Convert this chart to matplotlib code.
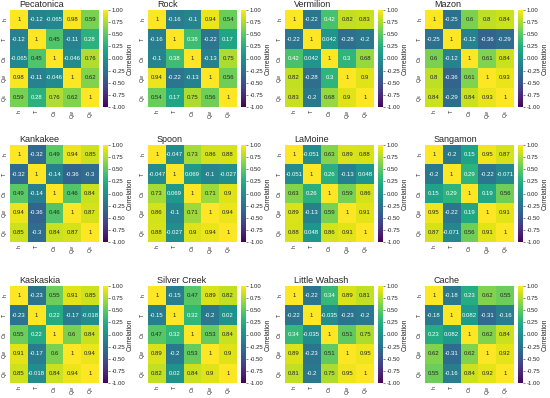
import numpy as np
import matplotlib
matplotlib.use('Agg')
import matplotlib.pyplot as plt
import seaborn as sns

sns.set_theme(style='white')
plt.rcParams['font.family'] = ['Liberation Sans', 'DejaVu Sans']

labels = ['h', 'T', 'Cs', 'Qw', 'Qs']
rivers = ['Pecatonica', 'Rock', 'Vermilion', 'Mazon',
          'Kankakee', 'Spoon', 'LaMoine', 'Sangamon',
          'Kaskaskia', 'Silver Creek', 'Little Wabash', 'Cache']

# upper triangle: h-T, h-Cs, h-Qw, h-Qs, T-Cs, T-Qw, T-Qs, Cs-Qw, Cs-Qs, Qw-Qs
pecatonica = [-0.12, -0.065, 0.98, 0.59, 0.45, -0.11, 0.28, -0.046, 0.76, 0.62]
rock = [-0.16, -0.1, 0.94, 0.54, 0.38, -0.22, 0.17, -0.13, 0.75, 0.56]
vermilion = [-0.22, 0.42, 0.82, 0.83, 0.042, -0.28, -0.2, 0.3, 0.68, 0.9]
mazon = [-0.25, 0.6, 0.8, 0.84, -0.12, -0.36, -0.29, 0.61, 0.84, 0.93]
kankakee = [-0.32, 0.49, 0.94, 0.85, -0.14, -0.36, -0.3, 0.46, 0.84, 0.87]
spoon = [-0.047, 0.73, 0.86, 0.88, 0.069, -0.1, -0.027, 0.71, 0.9, 0.94]
lamoine = [-0.051, 0.63, 0.89, 0.88, 0.26, -0.13, 0.048, 0.59, 0.86, 0.91]
sangamon = [-0.2, 0.15, 0.95, 0.87, 0.29, -0.22, -0.071, 0.19, 0.56, 0.91]
kaskaskia = [-0.23, 0.55, 0.91, 0.85, 0.22, -0.17, -0.018, 0.6, 0.84, 0.94]
silver_creek = [-0.15, 0.47, 0.89, 0.82, 0.32, -0.2, 0.02, 0.53, 0.84, 0.9]
little_wabash = [-0.22, 0.34, 0.89, 0.81, -0.035, -0.23, -0.2, 0.51, 0.75, 0.95]
cache = [-0.18, 0.23, 0.62, 0.55, 0.082, -0.31, -0.16, 0.62, 0.84, 0.92]

all_vals = [pecatonica, rock, vermilion, mazon, kankakee, spoon, lamoine,
            sangamon, kaskaskia, silver_creek, little_wabash, cache]


def corr_matrix(upper):
    m = np.eye(5)
    iu = np.triu_indices(5, k=1)
    m[iu] = upper
    m[(iu[1], iu[0])] = upper
    return m


fig = plt.figure(figsize=(5.5, 3.98), dpi=100)
W, H = 550, 398
col_x = [10, 148, 285, 425]
row_y = [10, 145, 286]
hw, hh = 89, 97

for i, (name, vals) in enumerate(zip(rivers, all_vals)):
    r, c = divmod(i, 4)
    x0, y0 = col_x[c], row_y[r]
    ax = fig.add_axes([x0 / W, 1 - (y0 + hh) / H, hw / W, hh / H])
    cax = fig.add_axes([(x0 + hw + 4) / W, 1 - (y0 + hh) / H, 5 / W, hh / H])
    sns.heatmap(corr_matrix(vals), ax=ax, cbar_ax=cax, cmap='viridis',
                vmin=-1, vmax=1, annot=True, annot_kws={'size': 4.3},
                xticklabels=labels, yticklabels=labels,
                cbar_kws={'label': 'Correlation'})
    ax.set_title(name, fontsize=6.5, loc='left', x=0.1, pad=2)
    ax.tick_params(axis='both', labelsize=3.8, length=0, pad=2)
    ax.set_xticklabels(labels, rotation=90)
    ax.set_yticklabels(labels, rotation=90, va='center')
    cax.tick_params(labelsize=4.3, length=1.5, width=0.4, pad=1)
    cax.set_yticks([-1, -0.75, -0.5, -0.25, 0, 0.25, 0.5, 0.75, 1])
    cax.set_yticklabels(['%.2f' % t for t in cax.get_yticks()])
    cax.yaxis.label.set_size(4.8)
    cax.yaxis.labelpad = 1

plt.savefig('out.png', dpi=100)
